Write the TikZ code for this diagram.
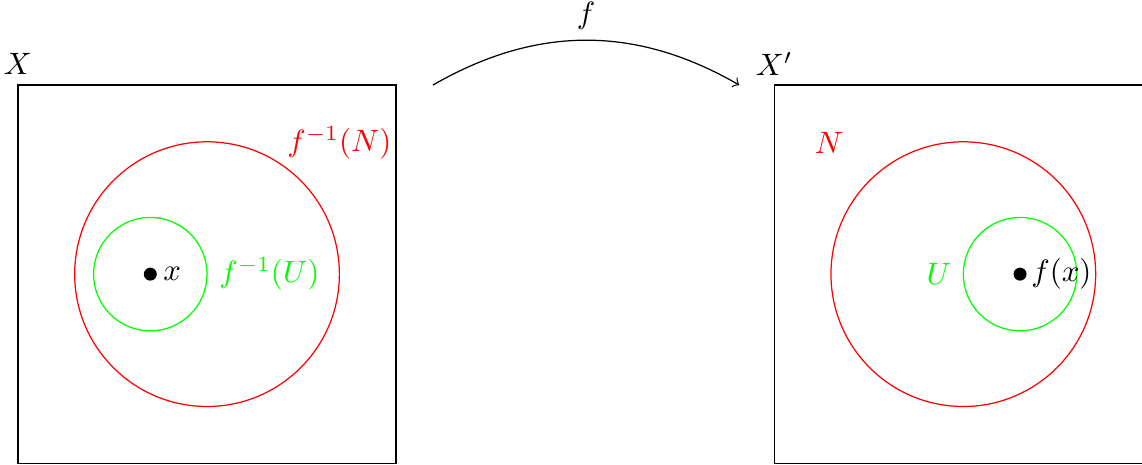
\documentclass[tikz,border=0pt]{standalone}
\usepackage{tikz}
\usetikzlibrary{positioning}

\begin{document}
\begin{tikzpicture}[
          line width=0.37pt,
          every node/.style={scale=0.93},
          space/.style={draw=black},
          nbhd/.style={draw=red},
          open/.style={draw=green},
          pt/.style={circle, fill=black, inner sep=0pt, minimum size=4.2pt},
          arr/.style={->}
        ]
        \useasboundingbox (-0.19,-0.01) rectangle (11.89,4.9);
        % Domain X
        \draw[space] (0,0) rectangle (4,4);
        \node (lX) at (0,4.22) {$X$};
        \draw[nbhd] (2,2) circle (1.4);
        \draw[open] (1.4,2) circle (0.6);
        \node[pt] (x) at (1.4,2) {};
        \node[right=-1.5pt of x] (lx) {$x$};
        \node[red] (lfN) at (3.40,3.39) {$f^{-1}(N)$};
        \node[green] (lfU) at (2.66,2) {$f^{-1}(U)$};
        % Codomain X'
        \draw[space] (8,0) rectangle (12,4);
        \node (lXp) at (8,4.22) {$X'$};
        \draw[nbhd] (10,2) circle (1.4);
        \draw[open] (10.6,2) circle (0.6);
        \node[pt] (fx) at (10.6,2) {};
        \node[right=-2pt of fx] (lfx) {$f(x)$};
        \node[red] (lN) at (8.58,3.39) {$N$};
        \node[green] (lU) at (9.74,2) {$U$};
        % The map f
        \coordinate (src) at (4.39,4.0);
        \coordinate (tgt) at (7.63,4.0);
        \draw[arr] (src) to[bend left=30] node[above] (lf) {$f$} (tgt);
      \end{tikzpicture}
\end{document}
